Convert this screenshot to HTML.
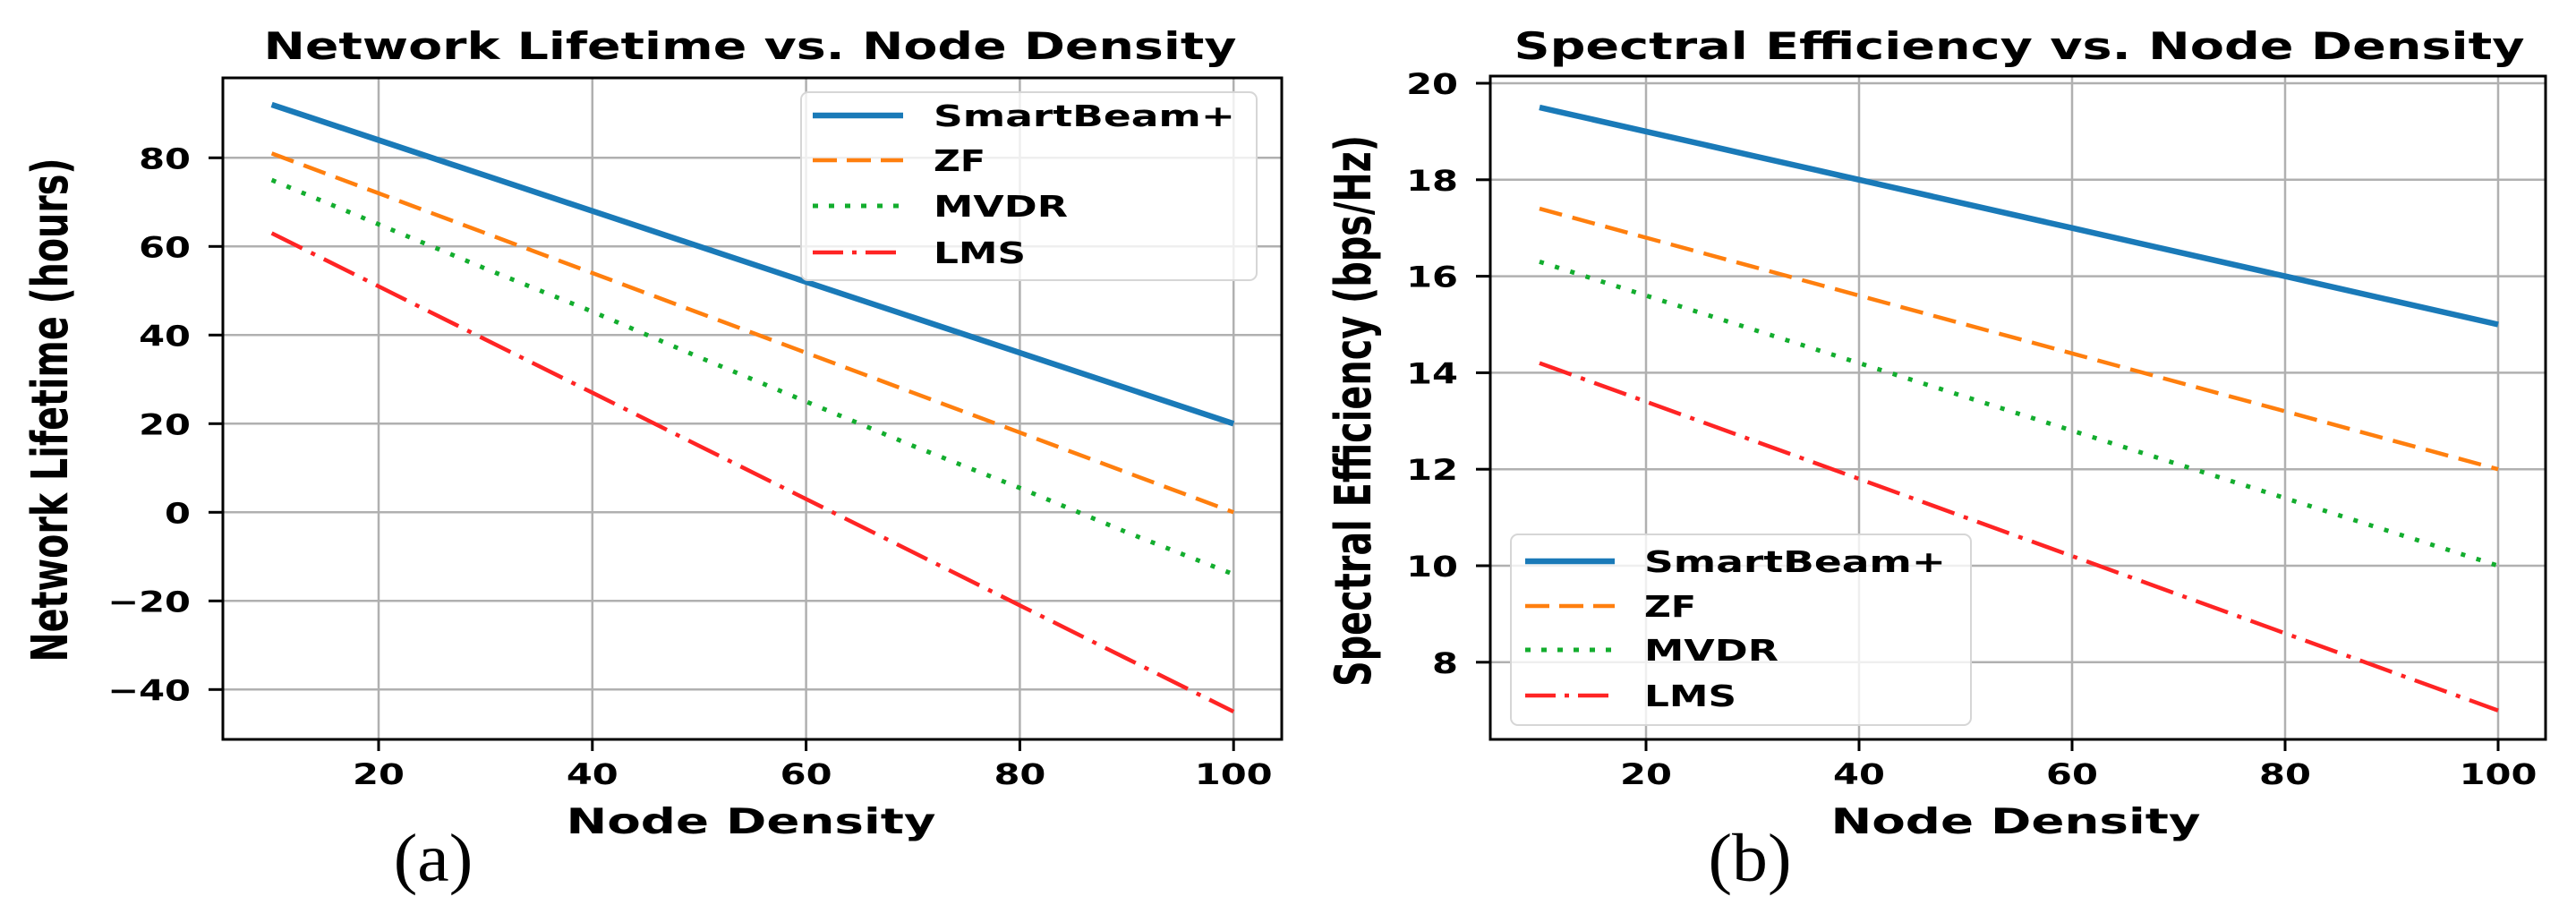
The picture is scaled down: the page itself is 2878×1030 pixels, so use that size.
<!DOCTYPE html>
<html><head><meta charset="utf-8"><style>
html,body{margin:0;padding:0;background:#fff;}
svg{display:block;font-family:"DejaVu Sans","Liberation Sans",sans-serif;font-weight:bold;}
</style></head><body>
<svg id="fig" width="2878" height="1030" viewBox="0 0 2878 1030" xmlns="http://www.w3.org/2000/svg">
<rect width="2878" height="1030" fill="#fff"/>
</svg>
<script>
// ---- data ----
const xValues = [10,20,30,40,50,60,70,80,90,100];
const seriesNames = ["SmartBeam+","ZF","MVDR","LMS"];
const xTicks = [20,40,60,80,100];
// panel (a) Network Lifetime
const lifeSmart = [92,84,76,68,60,52,44,36,28,20];
const lifeZF = [81,72,63,54,45,36,27,18,9,0];
const lifeMVDR = [75,65,55,45.3,35,25,15,5.5,-4.5,-14];
const lifeLMS = [63,51,39,27,15,3,-9,-21,-33,-45];
const lifeTicks = [-40,-20,0,20,40,60,80];
const lifeTickLabels = ["\u221240","\u221220","0","20","40","60","80"];
// panel (b) Spectral Efficiency
const seSmart = [19.5,19.0,18.5,18.0,17.5,17.0,16.5,16.0,15.5,15.0];
const seZF = [17.4,16.8,16.2,15.6,15.0,14.4,13.8,13.2,12.6,12.0];
const seMVDR = [16.3,15.6,14.9,14.2,13.5,12.8,12.1,11.4,10.7,10.0];
const seLMS = [14.2,13.4,12.6,11.8,11.0,10.2,9.4,8.6,7.8,7.0];
const seTicks = [8,10,12,14,16,18,20];
const seTickLabels = ["8","10","12","14","16","18","20"];

const NS = "http://www.w3.org/2000/svg";
const svg = document.getElementById('fig');
const colors = ["#1a7ab8","#ff7f0e","#13ad2e","#ff2424"];
const widths = [6.5,4.5,5,4.5];
const dashes = ["none","26 12","5 13","38 11 5 11"];
const legDashes = ["none","27 11","6 12","34 10 5 10"];

function el(tag, attrs, parent){
  const e = document.createElementNS(NS, tag);
  for (const k in attrs) e.setAttribute(k, attrs[k]);
  (parent||svg).appendChild(e);
  return e;
}
function txt(parent, s, x, y, size, anchor, extra){
  const t = el('text', Object.assign({x:x, y:y, 'font-size':size, 'text-anchor':anchor||'middle', fill:'#000'}, extra||{}), parent);
  t.textContent = s;
  return t;
}

function panel(cfg){
  const g = el('g', {});
  
  
  const X = v => cfg.x20 + (v-20)*cfg.xs;
  const Y = v => cfg.yRef - (v-cfg.vRef)*cfg.ys;
  xTicks.forEach(v=>{
    const l = el('line',{x1:X(v),x2:X(v),y1:cfg.top,y2:cfg.bottom,stroke:'#b0b0b0','stroke-width':2.5},g);
    
    
  });
  cfg.yTicks.forEach(v=>{
    const l = el('line',{x1:cfg.left,x2:cfg.right,y1:Y(v),y2:Y(v),stroke:'#b0b0b0','stroke-width':2.5},g);
    
    
  });
  cfg.series.forEach((arr,i)=>{
    const pts = arr.map((v,j)=>X(xValues[j]).toFixed(1)+','+Y(v).toFixed(1)).join(' ');
    const p = el('polyline',{points:pts,fill:'none',stroke:colors[i],'stroke-width':widths[i],'stroke-dasharray':dashes[i]},g);
    
    
  });
  const box = el('rect',{x:cfg.left,y:cfg.top,width:cfg.right-cfg.left,height:cfg.bottom-cfg.top,fill:'none',stroke:'#000','stroke-width':3},g);
  
  
  xTicks.forEach(v=>{
    el('line',{x1:X(v),x2:X(v),y1:cfg.bottom,y2:cfg.bottom+13,stroke:'#000','stroke-width':3},g);
    const t = txt(g, String(v), 0, 0, 32, 'middle', {transform:`translate(${X(v)},876) scale(1.3,1)`});
    
    
  });
  cfg.yTicks.forEach((v,i)=>{
    el('line',{x1:cfg.left-16,x2:cfg.left,y1:Y(v),y2:Y(v),stroke:'#000','stroke-width':3},g);
    const t = txt(g, cfg.yTickLabels[i], 0, 0, 32, 'end', {transform:`translate(${cfg.left-36},${Y(v)+12}) scale(1.3,1)`});
    
    
  });
  const ti = txt(g, cfg.title, cfg.titleX, 66, 42, 'middle', {textLength:cfg.titleW, lengthAdjust:'spacingAndGlyphs'});
  
  
  const xl = txt(g, 'Node Density', cfg.xlabX, 931, 39, 'middle', {textLength:413, lengthAdjust:'spacingAndGlyphs'});
  
  
  const yl = txt(g, cfg.ylabel, 0, 0, 32, 'middle', {textLength:cfg.ylabW, lengthAdjust:'spacingAndGlyphs', 'dominant-baseline':'central', transform:`translate(${cfg.ylabX},${cfg.ylabY}) rotate(-90) scale(1,1.75)`});
  
  
  const lg = el('g',{},g);
  
  
  el('rect',{x:cfg.lg.x0,y:cfg.lg.y0,width:cfg.lg.x1-cfg.lg.x0,height:cfg.lg.y1-cfg.lg.y0,rx:8,fill:'#fff','fill-opacity':0.8,stroke:'#d6d6d6','stroke-width':2},lg);
  const tw = [337,58,150,103];
  seriesNames.forEach((n,i)=>{
    const ey = cfg.lg.ys[i];
    const e = el('g',{},lg);
    
    
    el('line',{x1:cfg.lg.lx0,x2:cfg.lg.lx1,y1:ey,y2:ey,stroke:colors[i],'stroke-width':widths[i],'stroke-dasharray':legDashes[i]},e);
    txt(e, n, cfg.lg.tx, ey+12, 33, 'start', {textLength:tw[i], lengthAdjust:'spacingAndGlyphs'});
  });
  const pl = txt(g, cfg.plabel, 0, 0, 76, 'middle', {'font-family':'"Liberation Serif",serif','font-weight':'normal',transform:`translate(${cfg.plX},984) scale(1.05,1)`});
  
  
}

panel({name:'chart-network-lifetime', left:249, right:1432, top:87, bottom:826,
  x20:423, xs:11.94, yRef:176.3, vRef:80, ys:4.95,
  yTicks:lifeTicks, yTickLabels:lifeTickLabels,
  series:[lifeSmart,lifeZF,lifeMVDR,lifeLMS],
  title:'Network Lifetime vs. Node Density', titleX:838, titleW:1087,
  xlabX:839, ylabel:'Network Lifetime (hours)', ylabX:56, ylabY:458, ylabW:563,
  lg:{x0:895,x1:1404,y0:103,y1:313,ys:[129,179,230,282],lx0:908,lx1:1009,tx:1043},
  plabel:'(a)', plX:484});

panel({name:'chart-spectral-efficiency', left:1665, right:2844, top:85, bottom:826,
  x20:1839, xs:11.9, yRef:632, vRef:10, ys:53.9,
  yTicks:seTicks, yTickLabels:seTickLabels,
  series:[seSmart,seZF,seMVDR,seLMS],
  title:'Spectral Efficiency vs. Node Density', titleX:2256, titleW:1129,
  xlabX:2252, ylabel:'Spectral Efficiency (bps/Hz)', ylabX:1512, ylabY:459, ylabW:616,
  lg:{x0:1688,x1:2202,y0:597,y1:810,ys:[627,677,726,777],lx0:1704,lx1:1804,tx:1837},
  plabel:'(b)', plX:1955});
</script>
</body></html>
